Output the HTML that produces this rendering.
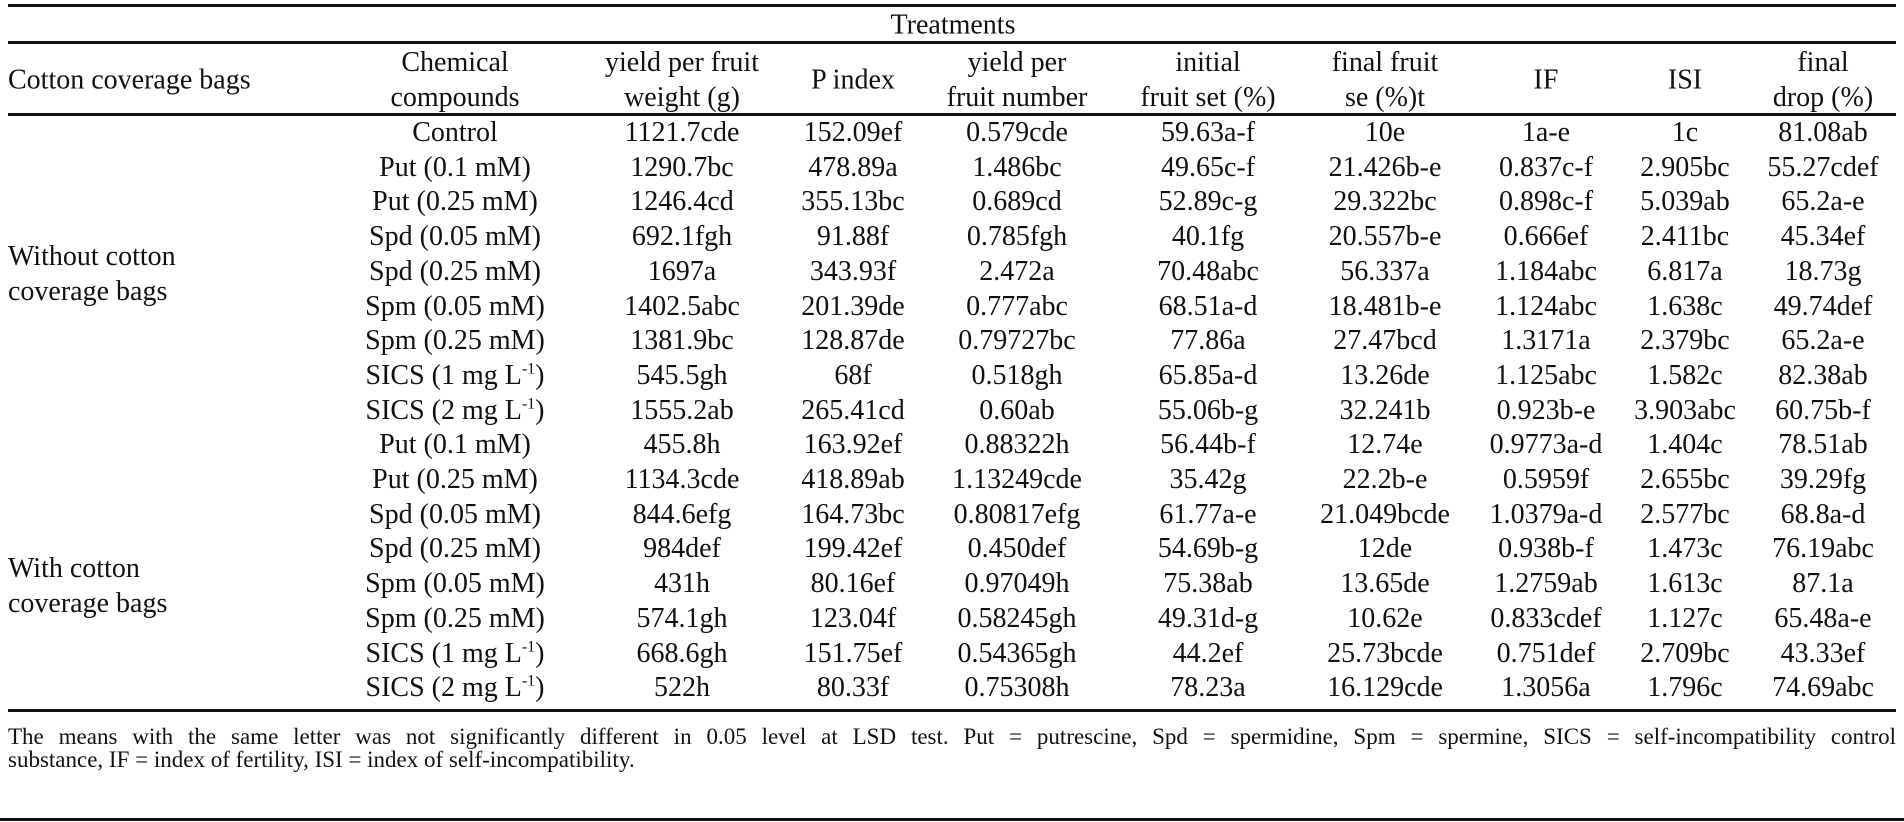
<!DOCTYPE html>
<html><head><meta charset="utf-8">
<style>
html,body{margin:0;padding:0;background:#fff;}
body{width:1904px;height:822px;position:relative;overflow:hidden;font-family:"Liberation Serif",serif;color:#111;}
.hl{position:absolute;left:8px;width:1888px;height:3px;background:#111;}
.t{position:absolute;font-size:28px;line-height:34px;white-space:nowrap;transform:translate(-50%,-50%);text-align:center;}
.l{position:absolute;font-size:28px;line-height:35px;white-space:nowrap;left:8px;transform:translateY(-50%);}
.h{position:absolute;font-size:28px;line-height:35px;white-space:nowrap;transform:translate(-50%,-50%);text-align:center;}
sup{font-size:16px;vertical-align:super;line-height:1;}
#foot{position:absolute;left:8px;width:1888px;top:725px;font-size:23px;line-height:23px;}
#foot .l1{display:block;text-align:justify;text-align-last:justify;}
</style></head>
<body>
<div class="hl" style="top:4px"></div>
<div class="h" style="left:953px;top:25px">Treatments</div>
<div class="hl" style="top:41px"></div>
<div class="l" style="top:80px">Cotton coverage bags</div>
<div class="h" style="left:455px;top:80px">Chemical<br>compounds</div>
<div class="h" style="left:682px;top:80px">yield per fruit<br>weight (g)</div>
<div class="h" style="left:853px;top:80px">P index</div>
<div class="h" style="left:1017px;top:80px">yield per<br>fruit number</div>
<div class="h" style="left:1208px;top:80px">initial<br>fruit set (%)</div>
<div class="h" style="left:1385px;top:80px">final fruit<br>se (%)t</div>
<div class="h" style="left:1546px;top:80px">IF</div>
<div class="h" style="left:1685px;top:80px">ISI</div>
<div class="h" style="left:1823px;top:80px">final<br>drop (%)</div>
<div class="hl" style="top:113px"></div>
<div class="l" style="top:274px">Without cotton<br>coverage bags</div>
<div class="l" style="top:586px">With cotton<br>coverage bags</div>
<div id="rows"></div>
<div class="hl" style="top:709px"></div>
<div id="foot"><span class="l1">The means with the same letter was not significantly different in 0.05 level at LSD test. Put = putrescine, Spd = spermidine, Spm = spermine, SICS = self-incompatibility control</span>substance, IF = index of fertility, ISI = index of self-incompatibility.</div>
<div class="hl" style="top:818px;left:0;width:1904px"></div>
<script>
const compounds=["Control","Put (0.1 mM)","Put (0.25 mM)","Spd (0.05 mM)","Spd (0.25 mM)","Spm (0.05 mM)","Spm (0.25 mM)","SICS (1 mg L<sup>-1</sup>)","SICS (2 mg L<sup>-1</sup>)","Put (0.1 mM)","Put (0.25 mM)","Spd (0.05 mM)","Spd (0.25 mM)","Spm (0.05 mM)","Spm (0.25 mM)","SICS (1 mg L<sup>-1</sup>)","SICS (2 mg L<sup>-1</sup>)"];
const yieldWeight=["1121.7cde","1290.7bc","1246.4cd","692.1fgh","1697a","1402.5abc","1381.9bc","545.5gh","1555.2ab","455.8h","1134.3cde","844.6efg","984def","431h","574.1gh","668.6gh","522h"];
const pIndex=["152.09ef","478.89a","355.13bc","91.88f","343.93f","201.39de","128.87de","68f","265.41cd","163.92ef","418.89ab","164.73bc","199.42ef","80.16ef","123.04f","151.75ef","80.33f"];
const yieldNumber=["0.579cde","1.486bc","0.689cd","0.785fgh","2.472a","0.777abc","0.79727bc","0.518gh","0.60ab","0.88322h","1.13249cde","0.80817efg","0.450def","0.97049h","0.58245gh","0.54365gh","0.75308h"];
const initialSet=["59.63a-f","49.65c-f","52.89c-g","40.1fg","70.48abc","68.51a-d","77.86a","65.85a-d","55.06b-g","56.44b-f","35.42g","61.77a-e","54.69b-g","75.38ab","49.31d-g","44.2ef","78.23a"];
const finalFruit=["10e","21.426b-e","29.322bc","20.557b-e","56.337a","18.481b-e","27.47bcd","13.26de","32.241b","12.74e","22.2b-e","21.049bcde","12de","13.65de","10.62e","25.73bcde","16.129cde"];
const ifVals=["1a-e","0.837c-f","0.898c-f","0.666ef","1.184abc","1.124abc","1.3171a","1.125abc","0.923b-e","0.9773a-d","0.5959f","1.0379a-d","0.938b-f","1.2759ab","0.833cdef","0.751def","1.3056a"];
const isiVals=["1c","2.905bc","5.039ab","2.411bc","6.817a","1.638c","2.379bc","1.582c","3.903abc","1.404c","2.655bc","2.577bc","1.473c","1.613c","1.127c","2.709bc","1.796c"];
const finalDrop=["81.08ab","55.27cdef","65.2a-e","45.34ef","18.73g","49.74def","65.2a-e","82.38ab","60.75b-f","78.51ab","39.29fg","68.8a-d","76.19abc","87.1a","65.48a-e","43.33ef","74.69abc"];
const cols=[compounds,yieldWeight,pIndex,yieldNumber,initialSet,finalFruit,ifVals,isiVals,finalDrop];
const colNames=["compound","yield-weight","p-index","yield-number","initial-set","final-fruit","if","isi","final-drop"];
const colX=[455,682,853,1017,1208,1385,1546,1685,1823];
const rowY0=133, rowH=34.7;
const host=document.getElementById('rows');
for(let r=0;r<compounds.length;r++){
  for(let c=0;c<cols.length;c++){
    const d=document.createElement('div');
    d.className='t';
    
    
    d.style.left=colX[c]+'px';
    d.style.top=(rowY0+r*rowH)+'px';
    d.innerHTML=cols[c][r];
    host.appendChild(d);
  }
}
</script>
</body></html>
